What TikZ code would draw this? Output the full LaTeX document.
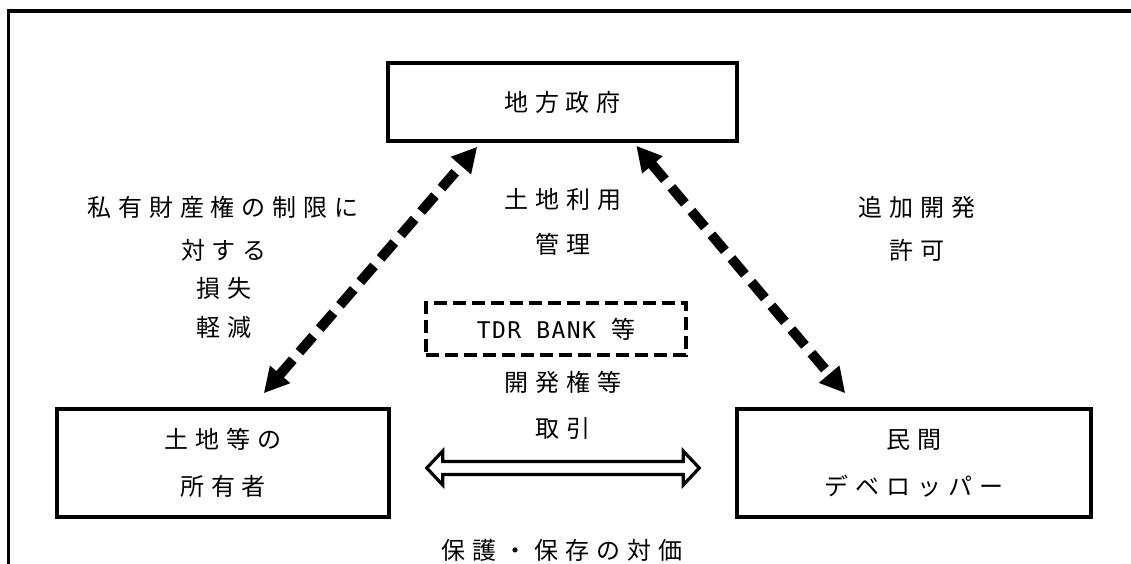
\documentclass[tikz,border=0pt]{standalone}
\usepackage{fontspec}
\setmainfont{Noto Sans CJK JP}
\newfontfamily\jp[LetterSpace=29]{Noto Sans CJK JP}
\newfontfamily\latinmono[LetterSpace=6]{DejaVu Sans Mono}
\usetikzlibrary{arrows.meta,calc}
\tikzset{
  jptext/.style={inner sep=0pt, font=\jp\fontsize{24}{47}\selectfont, align=center},
  mainbox/.style={draw, line width=3.5pt, inner sep=0pt, jptext},
  dasharrow/.style={line width=10pt, dash pattern=on 21pt off 10pt,
    {Triangle[length=25pt,width=25pt]}-{Triangle[length=25pt,width=25pt]}},
  hollowarrow/.style={line width=3.2pt, fill=white, line join=miter}
}
\begin{document}
\begin{tikzpicture}[x=1pt,y=-1pt]
\useasboundingbox (0,0) rectangle (1131,564);
% outer frame (open on the right and bottom)
\draw[line width=3.5pt] (8.5,564) -- (8.5,11) -- (1131,11);

% boxes
\node[mainbox, minimum width=349pt, minimum height=78pt] (gov) at (562.5,102) {地方政府};
\node[mainbox, minimum width=332pt, minimum height=108pt] (own) at (223,463) {土地等の\\所有者};
\node[mainbox, minimum width=354pt, minimum height=108pt] (dev) at (914,463) {民間\\デベロッパー};
\node[draw, line width=3.2pt, dash pattern=on 13pt off 6pt, minimum width=260pt, minimum height=52pt, inner sep=0pt] (tdr) at (556,329) {};
\node[inner sep=0pt, font=\latinmono\fontsize{23}{26}\selectfont] (tdrtxt) at (556,329) {TDR BANK {\jp\fontsize{24}{26}\selectfont 等}};

% labels
\node[jptext] (l1) at (223,207) {私有財産権の制限に};
\node[jptext] (l2) at (224,250) {対する};
\node[jptext] (l3) at (224,288) {損失};
\node[jptext] (l4) at (224,327) {軽減};
\node[jptext] (c1) at (563,199.5) {土地利用};
\node[jptext] (c2) at (563,244.5) {管理};
\node[jptext] (r1) at (917,207) {追加開発};
\node[jptext] (r2) at (917,250) {許可};
\node[jptext] (t1) at (563,382) {開発権等};
\node[jptext] (t2) at (563,428) {取引};
\node[jptext] (b1) at (562,550) {保護・保存の対価};

% dashed double arrows
\coordinate (gL) at ($(gov.south west)+(91,4)$);
\coordinate (oT) at ($(own.north east)+(-127,-14)$);
\coordinate (gR) at ($(gov.south west)+(250,3)$);
\coordinate (dT) at ($(dev.north west)+(110,-14)$);
\draw[dasharrow] (oT) -- (gL);
\draw[dasharrow] (gR) -- (dT);

% hollow double arrow
\coordinate (hl) at ($(own.east)+(36,5)$);
\coordinate (hr) at ($(dev.west)+(-36,5)$);
\draw[hollowarrow] (hl) -- ++(16,-17) -- ++(0,10.5) -- ($(hr)+(-16,-6.5)$) -- ++(0,-10.5)
  -- (hr) -- ++(-16,17) -- ++(0,-10.5) -- ($(hl)+(16,6.5)$) -- ++(0,10.5) -- cycle;
\end{tikzpicture}
\end{document}
